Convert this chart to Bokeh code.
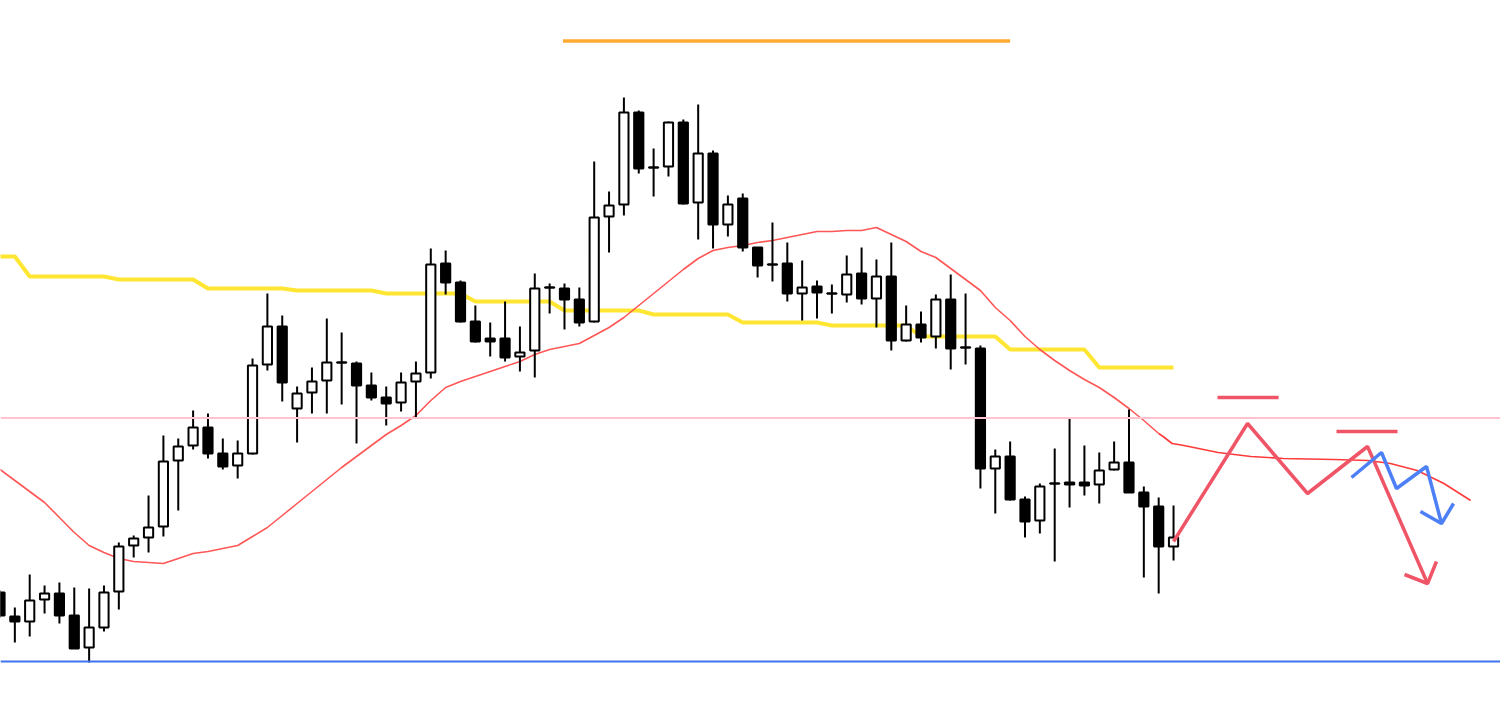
from bokeh.plotting import figure
from bokeh.models import Range1d, Span, ColumnDataSource
from bokeh.embed import file_html
from bokeh.resources import INLINE

# ---------------- data (price scale) ----------------
bars = list(range(80))
opens = [144.08, 143.84, 143.79, 144.01, 144.07, 143.85, 143.53, 143.73, 144.09, 144.55,
         144.63, 144.74, 145.40, 145.55, 145.73, 145.47, 145.35, 145.47, 146.36, 146.74,
         145.92, 146.08, 146.20, 146.38, 146.37, 146.15, 146.03, 145.98, 146.19, 146.28,
         147.37, 147.18, 146.79, 146.62, 146.62, 146.44, 146.50, 147.13, 147.12, 147.01,
         146.79, 147.84, 147.96, 148.88, 148.33, 148.34, 148.78, 147.98, 148.47, 147.76,
         148.02, 147.53, 147.36, 147.37, 147.07, 147.14, 147.07, 147.06, 147.27, 147.02,
         147.24, 146.60, 146.76, 146.64, 147.01, 146.53, 146.52, 145.32, 145.44, 145.01,
         144.80, 145.17, 145.18, 145.18, 145.16, 145.31, 145.38, 145.08, 144.94, 144.54]
highs = [144.10, 143.93, 144.26, 144.15, 144.18, 144.13, 144.12, 144.15, 144.58, 144.65,
         145.05, 145.65, 145.62, 145.90, 145.87, 145.62, 145.60, 146.42, 147.07, 146.85,
         146.14, 146.33, 146.82, 146.68, 146.39, 146.28, 146.14, 146.28, 146.39, 147.52,
         147.50, 147.20, 146.95, 146.78, 146.99, 146.74, 147.27, 147.17, 147.17, 147.13,
         148.39, 148.09, 149.03, 148.90, 148.52, 148.79, 148.81, 148.96, 148.50, 148.05,
         148.07, 147.53, 147.78, 147.58, 147.40, 147.20, 147.16, 147.45, 147.53, 147.41,
         147.58, 146.95, 146.89, 147.06, 147.26, 147.07, 146.55, 145.51, 145.59, 145.04,
         145.17, 145.52, 145.82, 145.55, 145.48, 145.59, 145.91, 145.14, 145.03, 144.95]
lows = [143.83, 143.58, 143.64, 143.87, 143.77, 143.52, 143.38, 143.69, 143.91, 144.43,
        144.48, 144.64, 144.90, 145.51, 145.42, 145.31, 145.22, 145.46, 146.30, 145.99,
        145.58, 145.87, 145.87, 145.96, 145.57, 146.00, 145.75, 145.89, 145.83, 146.22,
        147.06, 146.78, 146.58, 146.44, 146.39, 146.29, 146.23, 146.87, 146.71, 146.74,
        146.78, 147.48, 147.85, 148.27, 148.04, 148.24, 147.96, 147.61, 147.52, 147.64,
        147.49, 147.23, 147.19, 146.99, 146.80, 146.82, 146.87, 146.98, 146.96, 146.73,
        146.50, 146.59, 146.58, 146.52, 146.31, 146.36, 145.12, 144.87, 145.00, 144.63,
        144.67, 144.39, 144.93, 145.05, 144.97, 145.30, 145.08, 144.23, 144.07, 144.40]
closes = [143.85, 143.79, 144.00, 144.07, 143.85, 143.52, 143.73, 144.08, 144.54, 144.62,
          144.73, 145.39, 145.54, 145.73, 145.47, 145.34, 145.47, 146.35, 146.74, 146.18,
          146.07, 146.19, 146.38, 146.38, 146.15, 146.03, 145.97, 146.18, 146.27, 147.36,
          147.18, 146.79, 146.59, 146.59, 146.43, 146.48, 147.12, 147.13, 147.01, 146.78,
          147.83, 147.95, 148.88, 148.32, 148.33, 148.78, 147.97, 148.47, 147.76, 147.96,
          147.53, 147.35, 147.36, 147.07, 147.13, 147.08, 147.07, 147.26, 147.02, 147.24,
          146.60, 146.76, 146.63, 147.01, 146.52, 146.53, 145.32, 145.44, 145.01, 144.79,
          145.14, 145.17, 145.16, 145.15, 145.30, 145.38, 145.08, 144.94, 144.54, 144.63]

# higher-timeframe step line (yellow)
htf_line = [147.44, 147.44, 147.24, 147.24, 147.24, 147.24, 147.24, 147.24, 147.21, 147.21,
            147.21, 147.21, 147.21, 147.21, 147.12, 147.12, 147.12, 147.12, 147.12, 147.12,
            147.10, 147.10, 147.10, 147.10, 147.10, 147.10, 147.07, 147.07, 147.07, 147.07,
            147.07, 147.07, 146.99, 146.99, 146.99, 146.99, 146.99, 146.99, 146.90, 146.90,
            146.90, 146.90, 146.90, 146.90, 146.86, 146.86, 146.86, 146.86, 146.86, 146.86,
            146.78, 146.78, 146.78, 146.78, 146.78, 146.78, 146.75, 146.75, 146.75, 146.75,
            146.75, 146.75, 146.64, 146.64, 146.64, 146.64, 146.64, 146.64, 146.51, 146.51,
            146.51, 146.51, 146.51, 146.51, 146.33, 146.33, 146.33, 146.33, 146.33, 146.33]

# moving average (red, thin)
ma_bars = list(range(79))
ma_values = [145.31, 145.20, 145.09, 144.98, 144.83, 144.68, 144.55, 144.48, 144.42, 144.39,
             144.38, 144.37, 144.42, 144.47, 144.49, 144.52, 144.55, 144.64, 144.73, 144.85,
             144.97, 145.09, 145.21, 145.33, 145.44, 145.55, 145.66, 145.75, 145.85, 146.00,
             146.13, 146.19, 146.24, 146.29, 146.34, 146.39, 146.46, 146.51, 146.54, 146.57,
             146.65, 146.73, 146.83, 146.95, 147.07, 147.19, 147.31, 147.42, 147.50, 147.53,
             147.55, 147.58, 147.60, 147.63, 147.66, 147.69, 147.69, 147.70, 147.70, 147.73,
             147.66, 147.59, 147.49, 147.43, 147.32, 147.21, 147.10, 146.93, 146.80, 146.64,
             146.51, 146.40, 146.30, 146.21, 146.13, 146.03, 145.92, 145.80, 145.67]

# hand-drawn projection of the moving average
ma_proj_bars = [78.0, 78.3, 78.9, 79.7, 82.0, 84.2, 86.4, 89.8, 92.1, 93.6, 95.4, 97.2, 99.0]
ma_proj_values = [145.67, 145.64, 145.57, 145.55, 145.48, 145.44, 145.42, 145.41, 145.40,
                  145.37, 145.30, 145.17, 145.00]

# horizontal levels
pink_level = 145.825
blue_level = 143.39
orange_level = 149.595
orange_from, orange_to = 37.9, 68.0

# scenario drawings (red & blue)
red_path_bars = [79.0, 83.98, 88.02, 92.06, 96.1]
red_path_prices = [144.59, 145.77, 145.07, 145.54, 144.17]
red_head_bars = [94.55, 96.1, 96.7]
red_head_prices = [144.26, 144.17, 144.39]
red_mark1_bars, red_mark1_price = [81.96, 86.07], 146.03
red_mark2_bars, red_mark2_price = [89.97, 94.08], 145.69
blue_path_bars = [90.98, 93.0, 94.01, 96.03, 97.04]
blue_path_prices = [145.23, 145.48, 145.12, 145.34, 144.77]
blue_head_bars = [95.62, 97.04, 97.85]
blue_head_prices = [144.89, 144.77, 144.97]

# ---------------- figure ----------------
p = figure(width=1500, height=707, x_range=Range1d(0.034, 101.01),
           y_range=Range1d(142.93, 150.0), output_backend="svg",
           toolbar_location=None, x_axis_location=None, y_axis_location=None,
           min_border=0, background_fill_color="white", border_fill_color="white")
p.grid.visible = False
p.outline_line_color = None

p.add_layout(Span(location=pink_level, dimension="width", line_color="#FFC2CE", line_width=2))
p.add_layout(Span(location=blue_level, dimension="width", line_color="#3F74EE", line_width=2))

p.line(x=[orange_from, orange_to], y=[orange_level, orange_level], line_color="#FFAA33", line_width=3.5)

p.line(x=bars, y=htf_line, line_color="#FFE633", line_width=4)
p.line(x=ma_bars, y=ma_values, line_color="#FF5656", line_width=1.6)
p.line(x=ma_proj_bars, y=ma_proj_values, line_color="#FF3B3B", line_width=1.6)

# candles
p.segment(x0=bars, y0=highs, x1=bars, y1=lows, line_color="black", line_width=2)
eps = 0.004
up = dict(x=[], top=[], bottom=[])
dn = dict(x=[], top=[], bottom=[])
for i, o, c in zip(bars, opens, closes):
    t, b = max(o, c), min(o, c)
    if t - b < eps:
        t, b = t + eps / 2, b - eps / 2
    d = up if c >= o else dn
    d["x"].append(i); d["top"].append(t); d["bottom"].append(b)
p.vbar(x="x", top="top", bottom="bottom", width=0.62, source=ColumnDataSource(up),
       fill_color="white", line_color="black", line_width=2)
p.vbar(x="x", top="top", bottom="bottom", width=0.62, source=ColumnDataSource(dn),
       fill_color="black", line_color="black", line_width=2)

# scenario drawings
red = "#EF5567"
blue = "#4D80F6"
p.line(x=red_path_bars, y=red_path_prices, line_color=red, line_width=3.5)
p.line(x=red_head_bars, y=red_head_prices, line_color=red, line_width=3.5)
p.line(x=red_mark1_bars, y=[red_mark1_price] * 2, line_color=red, line_width=3.5)
p.line(x=red_mark2_bars, y=[red_mark2_price] * 2, line_color=red, line_width=3.5)
p.line(x=blue_path_bars, y=blue_path_prices, line_color=blue, line_width=3.5)
p.line(x=blue_head_bars, y=blue_head_prices, line_color=blue, line_width=3.5)

open("out.html", "w").write(file_html(p, INLINE))
